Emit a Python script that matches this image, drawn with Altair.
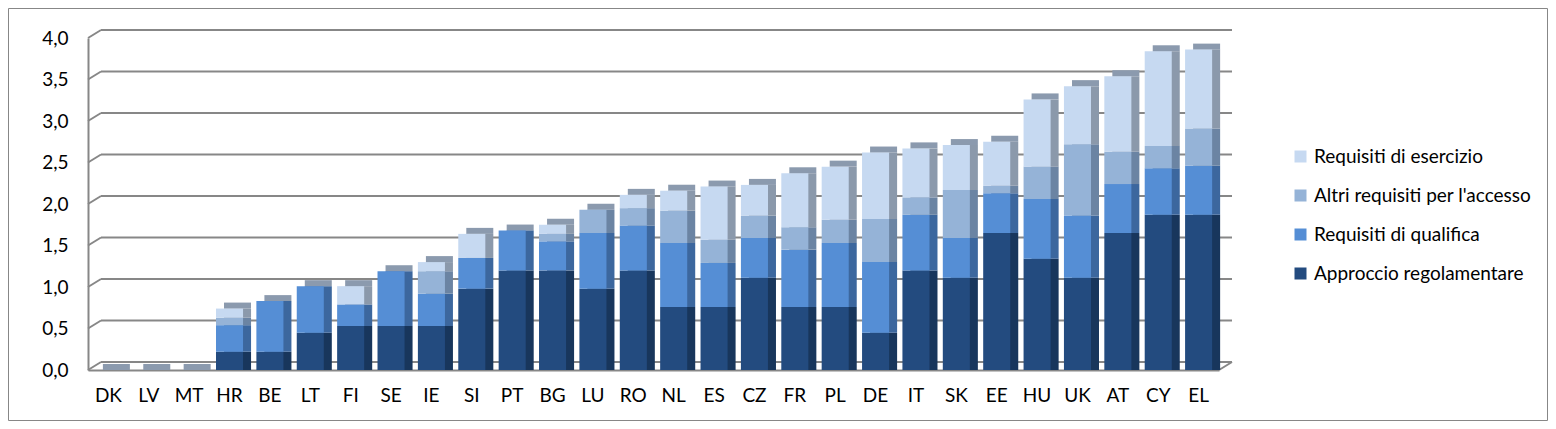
import altair as alt
import pandas as pd

# Stacked 3D-style column chart
countries = ["DK", "LV", "MT", "HR", "BE", "LT", "FI", "SE", "IE", "SI", "PT", "BG", "LU", "RO",
             "NL", "ES", "CZ", "FR", "PL", "DE", "IT", "SK", "EE", "HU", "UK", "AT", "CY", "EL"]
approccio = [0, 0, 0, 0.22, 0.22, 0.45, 0.53, 0.53, 0.53, 0.98, 1.20, 1.20, 0.98, 1.20,
             0.76, 0.76, 1.11, 0.76, 0.76, 0.45, 1.20, 1.11, 1.65, 1.34, 1.11, 1.65, 1.87, 1.87]
qualifica = [0, 0, 0, 0.32, 0.61, 0.56, 0.26, 0.66, 0.39, 0.37, 0.48, 0.35, 0.67, 0.54,
             0.77, 0.53, 0.48, 0.69, 0.77, 0.85, 0.67, 0.48, 0.48, 0.72, 0.75, 0.59, 0.56, 0.59]
altri = [0, 0, 0, 0.09, 0, 0, 0, 0, 0.27, 0, 0, 0.09, 0.28, 0.21,
         0.39, 0.28, 0.27, 0.27, 0.28, 0.52, 0.21, 0.58, 0.09, 0.39, 0.86, 0.39, 0.27, 0.45]
esercizio = [0, 0, 0, 0.11, 0, 0, 0.22, 0, 0.11, 0.29, 0, 0.11, 0, 0.16,
             0.24, 0.64, 0.37, 0.65, 0.64, 0.80, 0.59, 0.54, 0.53, 0.81, 0.70, 0.91, 1.14, 0.95]

series = ["Approccio regolamentare", "Requisiti di qualifica",
          "Altri requisiti per l'accesso", "Requisiti di esercizio"]
y_ticks = [0, 0.5, 1.0, 1.5, 2.0, 2.5, 3.0, 3.5, 4.0]

# legend order (top to bottom) and colours
legend_order = series[::-1]
front_colors = ["#C6D9F1", "#95B3D7", "#558ED5", "#234B7F"]
side_colors = ["#8B99AB", "#6B84A3", "#3C679E", "#18365C"]
CAP_COLOR = "#8B9AAE"
GRID = "#878787"

rows = []
for i, s in enumerate(series):
    vals = [approccio, qualifica, altri, esercizio][i]
    for c, v in zip(countries, vals):
        rows.append({"country": c, "series": s, "value": v, "ord": i})
df = pd.DataFrame(rows)
grid_df = pd.DataFrame({"v": y_ticks})

W, H = 1131, 332
DX, DY = 13, 8   # depth of the back wall
D, CAP = 8, 6    # depth of each column

y_scale = alt.Scale(domain=[0, 4], nice=False)
y_axis = alt.Axis(
    title=None, values=y_ticks, ticks=False, grid=False,
    domainColor=GRID, domainWidth=2, labelFontSize=19, labelPadding=20,
    labelColor="black", labelExpr="replace(format(datum.value, '.1f'), '.', ',')",
)
x_enc = alt.X(
    "country:N", sort=countries,
    scale=alt.Scale(paddingInner=0.33, paddingOuter=0.17),
    axis=alt.Axis(title=None, labelAngle=0, ticks=False, domainColor=GRID,
                  domainWidth=2, labelFontSize=19, labelPadding=16, labelColor="black"),
)

# back wall gridlines and the slanted connectors to the axis
grid = alt.Chart(grid_df).mark_rule(color=GRID, strokeWidth=2, yOffset=-DY).encode(
    x=alt.value(DX), x2=alt.value(W + DX), y=alt.Y("v:Q", scale=y_scale, axis=y_axis)
)
slants = alt.Chart(grid_df).mark_rule(color=GRID, strokeWidth=2, y2Offset=-DY).encode(
    x=alt.value(0), x2=alt.value(DX), y=alt.Y("v:Q", scale=y_scale, axis=y_axis), y2="v:Q"
)
floor_edge = alt.Chart(grid_df).transform_filter(alt.datum.v == 0).mark_rule(
    color=GRID, strokeWidth=2, y2Offset=-DY
).encode(x=alt.value(W), x2=alt.value(W + DX), y=alt.Y("v:Q", scale=y_scale, axis=y_axis), y2="v:Q")

# grey top of each column
caps = alt.Chart(df).transform_aggregate(total="sum(value)", groupby=["country"]).mark_tick(
    color=CAP_COLOR, thickness=CAP, size=27, xOffset=D, yOffset=-CAP / 2, opacity=1
).encode(x=x_enc, y=alt.Y("total:Q", scale=y_scale, axis=y_axis))

# darker side faces
sides = alt.Chart(df).mark_bar(xOffset=D).encode(
    x=x_enc,
    y=alt.Y("value:Q", scale=y_scale, axis=y_axis, stack="zero"),
    color=alt.Color("series:N", scale=alt.Scale(domain=legend_order, range=side_colors), legend=None),
    order=alt.Order("ord:Q", sort="ascending"),
)

# front faces
fronts = alt.Chart(df).mark_bar().encode(
    x=x_enc,
    y=alt.Y("value:Q", scale=y_scale, axis=y_axis, stack="zero"),
    color=alt.Color("series:N", scale=alt.Scale(domain=legend_order, range=front_colors),
                    legend=alt.Legend(title=None)),
    order=alt.Order("ord:Q", sort="ascending"),
)

frame = alt.Chart(pd.DataFrame({"a": [0]})).mark_rect(
    fill="transparent", stroke=GRID, strokeWidth=1
).encode(x=alt.value(-79.5), x2=alt.value(W + 328.5), y=alt.value(-29.5), y2=alt.value(H + 50.5))

chart = (
    alt.layer(grid, slants, floor_edge, caps, sides, fronts, frame)
    .resolve_scale(color="independent")
    .properties(
        width=W, height=H,
        padding={"left": 80, "top": 30, "right": 329, "bottom": 51},
        autosize=alt.AutoSizeParams(type="none"),
        background="white",
    )
    .configure(font="Lato")
    .configure_view(stroke=None)
    .configure_legend(
        orient="none", legendX=1203, legendY=109, labelFontSize=19, labelColor="black",
        symbolType="square", symbolSize=144, symbolStrokeWidth=0, rowPadding=19,
        labelOffset=4, labelLimit=400,
    )
)

chart.save("out.html", embed_options={"renderer": "svg", "actions": False})
